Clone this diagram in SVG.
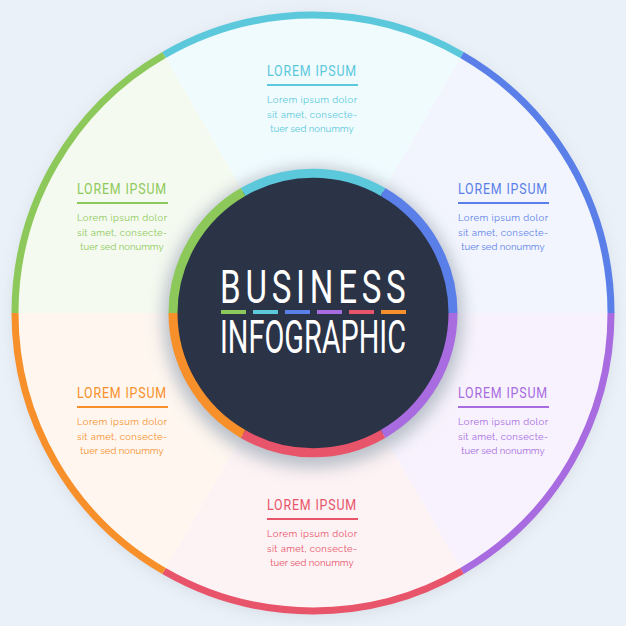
<svg xmlns="http://www.w3.org/2000/svg" width="626" height="626" viewBox="0 0 626 626">
<defs>
<filter id="sh" x="-20%" y="-20%" width="140%" height="140%"><feGaussianBlur stdDeviation="8"/></filter>
<style>
.t{font-family:Roboto,"Liberation Sans",sans-serif;font-size:15px;letter-spacing:1px;text-anchor:middle}
.b{font-family:Raleway,"Open Sans","Liberation Sans",sans-serif;font-size:9.5px;text-anchor:middle}
.big{font-family:Roboto,"Liberation Sans",sans-serif;font-size:46px;fill:#fff}
.ring{fill:none;stroke-width:7}
.ir{fill:none;stroke-width:9}
</style>
</defs>
<rect width="626" height="626" fill="#EAF1F8"/>
<circle cx="313" cy="316" r="300" fill="#d5dbe3" filter="url(#sh)"/>
<g id="disk">
<circle cx="313" cy="313" r="298" fill="#fff"/>
<path d="M313 313L164 55A298 298 0 0 1 462 55Z" fill="#EFFBFD"/>
<path d="M313 313L462 55A298 298 0 0 1 611 313Z" fill="#F2F5FE"/>
<path d="M313 313L611 313A298 298 0 0 1 462 571Z" fill="#F7F2FD"/>
<path d="M313 313L462 571A298 298 0 0 1 164 571Z" fill="#FDF2F4"/>
<path d="M313 313L164 571A298 298 0 0 1 15 313Z" fill="#FEF6EF"/>
<path d="M313 313L15 313A298 298 0 0 1 164 55Z" fill="#F5FAF0"/>
</g>
<g id="outer-ring">
<path class="ring" stroke="#5BC8DC" d="M164 55A298 298 0 0 1 462 55"/>
<path class="ring" stroke="#5B7FE8" d="M462 55A298 298 0 0 1 611 313"/>
<path class="ring" stroke="#A86BE0" d="M611 313A298 298 0 0 1 462 571"/>
<path class="ring" stroke="#E8546A" d="M462 571A298 298 0 0 1 164 571"/>
<path class="ring" stroke="#F7902A" d="M164 571A298 298 0 0 1 15 313"/>
<path class="ring" stroke="#8DC95A" d="M15 313A298 298 0 0 1 164 55"/>
</g>
<circle cx="313" cy="318" r="150" fill="#b9c0c9" filter="url(#sh)"/>
<g id="center">
<circle cx="313" cy="313" r="140" fill="#2B3347"/>
<path class="ir" stroke="#5BC8DC" d="M243 192A140 140 0 0 1 383 192"/>
<path class="ir" stroke="#5B7FE8" d="M383 192A140 140 0 0 1 453 313"/>
<path class="ir" stroke="#A86BE0" d="M453 313A140 140 0 0 1 383 434"/>
<path class="ir" stroke="#E8546A" d="M383 434A140 140 0 0 1 243 434"/>
<path class="ir" stroke="#F7902A" d="M243 434A140 140 0 0 1 173 313"/>
<path class="ir" stroke="#8DC95A" d="M173 313A140 140 0 0 1 243 192"/>
<text class="big" transform="scale(0.72,1)" x="305.6" y="303" textLength="258" lengthAdjust="spacing">BUSINESS</text>
<text class="big" x="220" y="353" textLength="186" lengthAdjust="spacingAndGlyphs">INFOGRAPHIC</text>
<rect x="221" y="310" width="25" height="4" fill="#8DC95A"/>
<rect x="253" y="310" width="25" height="4" fill="#5BC8DC"/>
<rect x="285" y="310" width="25" height="4" fill="#5B7FE8"/>
<rect x="317" y="310" width="25" height="4" fill="#A86BE0"/>
<rect x="349" y="310" width="25" height="4" fill="#E8546A"/>
<rect x="381" y="310" width="25" height="4" fill="#F7902A"/>
</g>
<g id="n-top" fill="#5BC8DC">
<text class="t" x="312" y="76" textLength="90" lengthAdjust="spacingAndGlyphs">LOREM IPSUM</text>
<rect x="267" y="84" width="91" height="2"/>
<text class="b" x="312" y="103" textLength="90">Lorem ipsum dolor</text><text class="b" x="312" y="118" textLength="90">sit amet, consecte-</text><text class="b" x="312" y="132">tuer sed nonummy</text>
</g>
<g id="n-rt" fill="#5B7FE8">
<text class="t" x="503" y="194" textLength="90" lengthAdjust="spacingAndGlyphs">LOREM IPSUM</text>
<rect x="458" y="202" width="91" height="2"/>
<text class="b" x="503" y="221" textLength="90">Lorem ipsum dolor</text><text class="b" x="503" y="236" textLength="90">sit amet, consecte-</text><text class="b" x="503" y="250">tuer sed nonummy</text>
</g>
<g id="n-rb" fill="#A86BE0">
<text class="t" x="503" y="398" textLength="90" lengthAdjust="spacingAndGlyphs">LOREM IPSUM</text>
<rect x="458" y="406" width="91" height="2"/>
<text class="b" x="503" y="425" textLength="90">Lorem ipsum dolor</text><text class="b" x="503" y="440" textLength="90">sit amet, consecte-</text><text class="b" x="503" y="454">tuer sed nonummy</text>
</g>
<g id="n-bot" fill="#E8546A">
<text class="t" x="312" y="510" textLength="90" lengthAdjust="spacingAndGlyphs">LOREM IPSUM</text>
<rect x="267" y="518" width="91" height="2"/>
<text class="b" x="312" y="537" textLength="90">Lorem ipsum dolor</text><text class="b" x="312" y="552" textLength="90">sit amet, consecte-</text><text class="b" x="312" y="566">tuer sed nonummy</text>
</g>
<g id="n-lb" fill="#F7902A">
<text class="t" x="122" y="398" textLength="90" lengthAdjust="spacingAndGlyphs">LOREM IPSUM</text>
<rect x="77" y="406" width="91" height="2"/>
<text class="b" x="122" y="425" textLength="90">Lorem ipsum dolor</text><text class="b" x="122" y="440" textLength="90">sit amet, consecte-</text><text class="b" x="122" y="454">tuer sed nonummy</text>
</g>
<g id="n-lt" fill="#8DC95A">
<text class="t" x="122" y="194" textLength="90" lengthAdjust="spacingAndGlyphs">LOREM IPSUM</text>
<rect x="77" y="202" width="91" height="2"/>
<text class="b" x="122" y="221" textLength="90">Lorem ipsum dolor</text><text class="b" x="122" y="236" textLength="90">sit amet, consecte-</text><text class="b" x="122" y="250">tuer sed nonummy</text>
</g>
<g id="connectors"/>
</svg>
